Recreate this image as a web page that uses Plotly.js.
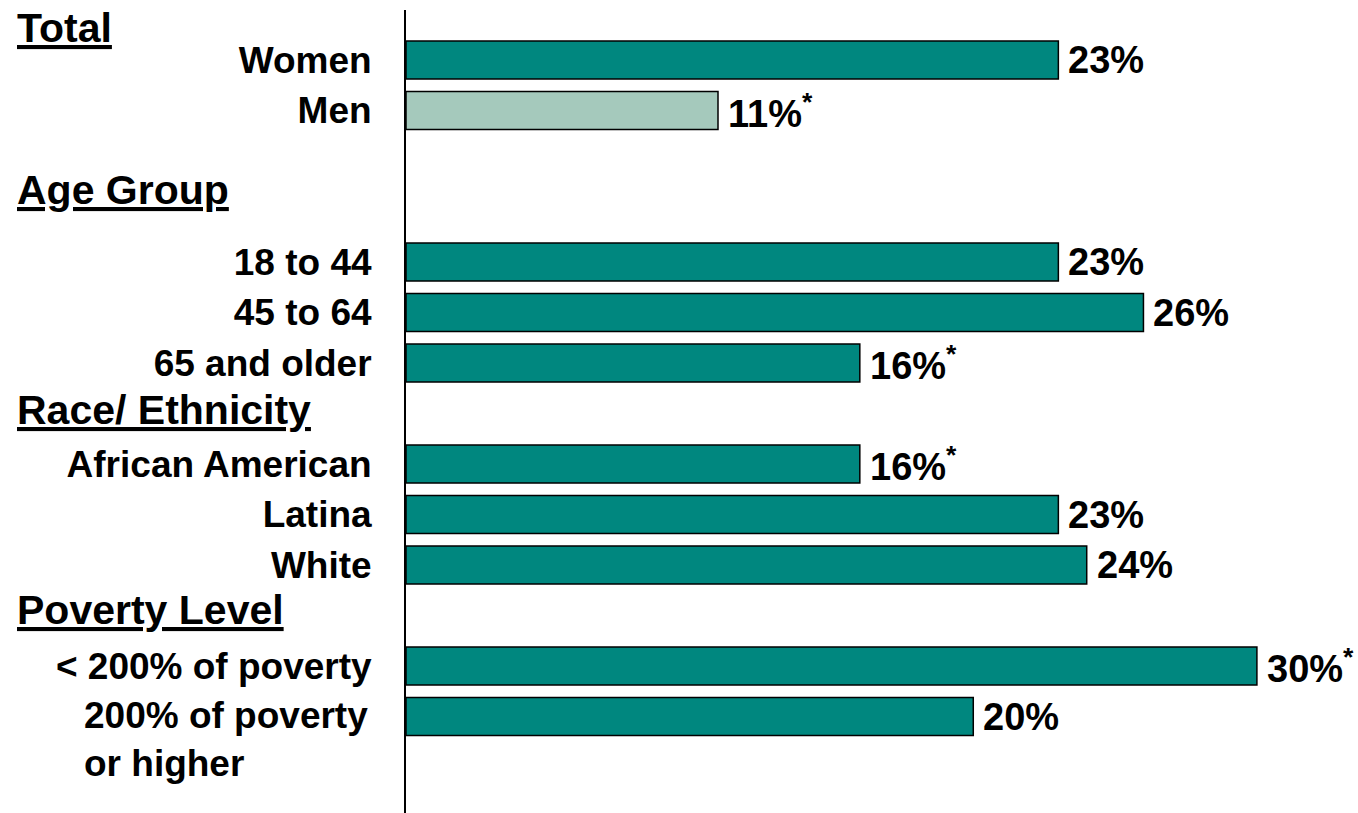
<!DOCTYPE html>
<html>
<head>
<meta charset="utf-8">
<script src="https://cdn.plot.ly/plotly-3.0.1.min.js"></script>
<style>
  html, body { margin: 0; padding: 0; background: #fff; }
  #chart { width: 1358px; height: 813px; }
</style>
</head>
<body>
<div id="chart"></div>
<script>
document.addEventListener('DOMContentLoaded', function() {
    // categories top to bottom, blank entries are spacer rows
    var categories = ['Women', 'Men', ' ', '  ',
        '18 to 44', '45 to 64', '65 and older', '   ',
        'African American', 'Latina', 'White', '    ',
        '< 200% of poverty', '200% of poverty or higher'];
    var values = [23, 11, null, null, 23, 26, 16, null, 16, 23, 24, null, 30, 20];
    var valueLabels = ['23%', '11%<sup>*</sup>', '', '', '23%', '26%', '16%<sup>*</sup>', '',
        '16%<sup>*</sup>', '23%', '24%', '', '30%<sup>*</sup>', '20%'];
    var barColors = ['#00877f', '#a5c9bc', '#00877f', '#00877f', '#00877f', '#00877f', '#00877f',
        '#00877f', '#00877f', '#00877f', '#00877f', '#00877f', '#00877f', '#00877f'];

    var groupHeaders = ['Total', 'Age Group', 'Race/ Ethnicity', 'Poverty Level'];
    var headerRows = [-0.63, 2.57, 6.93, 10.89];

    var font = 'Liberation Sans, Arial, sans-serif';

    var data = [{
        type: 'bar',
        orientation: 'h',
        y: categories,
        x: values,
        width: 0.75,
        marker: {color: barColors, line: {color: '#000', width: 1.5}},
        hoverinfo: 'none'
    }];

    var annotations = [];
    categories.forEach(function(c, i) {
        if (values[i] === null) return;
        annotations.push({
            x: values[i], y: c, xref: 'x', yref: 'y',
            xanchor: 'left', yanchor: 'middle', xshift: 8,
            text: '<b>' + valueLabels[i] + '</b>', showarrow: false,
            font: {family: font, size: 38, color: '#000'}
        });
    });
    groupHeaders.forEach(function(h, i) {
        annotations.push({
            x: -0.4177, y: headerRows[i], xref: 'paper', yref: 'y',
            xanchor: 'left', yanchor: 'middle',
            text: '<b><u>' + h + '</u></b>', showarrow: false,
            font: {family: font, size: 41, color: '#000'}
        });
    });
    // two-line label for the last row
    annotations.push({
        x: -0.038, y: categories[13], xref: 'paper', yref: 'y',
        xanchor: 'right', yanchor: 'middle', yshift: -23, align: 'left',
        text: '<b>200% of poverty<br>or higher</b>', showarrow: false,
        font: {family: font, size: 37, color: '#000'}
    });

    var tickCats = categories.filter(function(c, i) { return i < 13 && values[i] !== null; });

    var layout = {
        width: 1358, height: 813,
        margin: {l: 406, r: 16, t: 10, b: 0},
        paper_bgcolor: '#fff', plot_bgcolor: '#fff',
        showlegend: false,
        bargap: 0.25,
        xaxis: {range: [0, 33], showgrid: false, zeroline: false,
            showticklabels: false, ticks: '', showline: false, fixedrange: true},
        yaxis: {type: 'category', range: [14.91, -0.99],
            showgrid: false, zeroline: false, ticks: '',
            showline: true, linecolor: '#000', linewidth: 2,
            tickmode: 'array', tickvals: tickCats, ticktext: tickCats.map(function(c) { return '<b>' + c + '</b>'; }),
            ticklabelstandoff: 25,
            tickfont: {family: font, size: 37, color: '#000'}, fixedrange: true},
        annotations: annotations
    };

    Plotly.newPlot('chart', data, layout, {displayModeBar: false, staticPlot: true});
});
</script>
</body>
</html>
